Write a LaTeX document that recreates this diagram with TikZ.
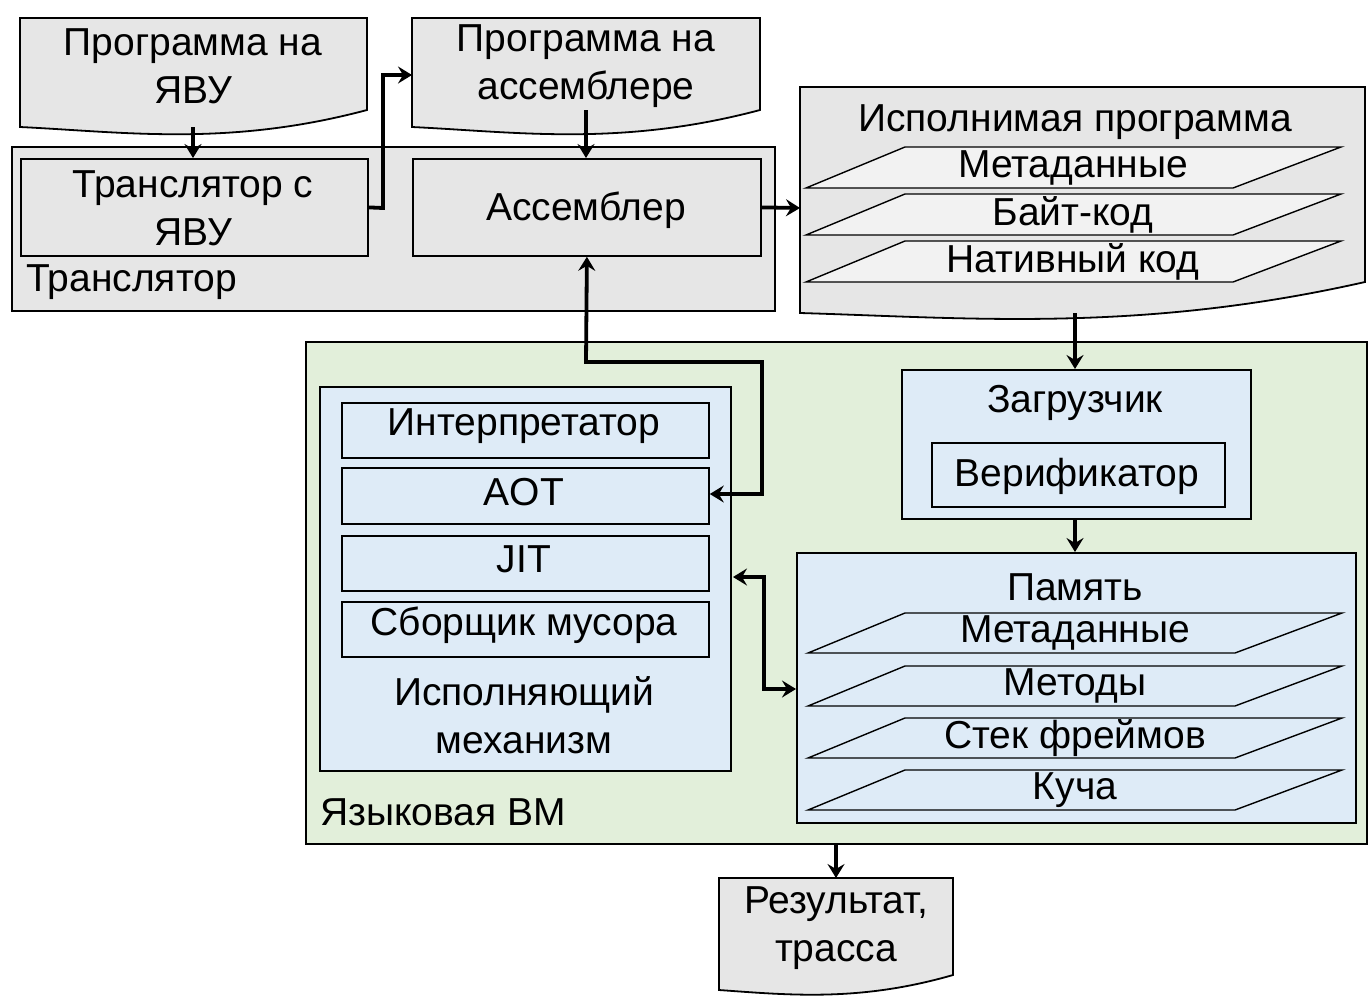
\documentclass[tikz,border=0pt]{standalone}
\usepackage{fontspec}
\setmainfont{Liberation Sans}
\usetikzlibrary{arrows.meta}
\definecolor{gr}{HTML}{E6E6E6}
\definecolor{lgr}{HTML}{F2F2F2}
\definecolor{grn}{HTML}{E2EFDA}
\definecolor{blu}{HTML}{DEEBF7}
\newcommand{\docpath}[7]{% x1 x2 ytop yleft yright fill dip
  \filldraw[fill=#6, line width=1.8pt] (#1,#3) -- (#2,#3) -- (#2,#5) .. controls ({#2-0.4*(#2-#1)},{#4+#7}) and ({#1+0.3*(#2-#1)},{#4+5}) .. (#1,#4) -- cycle;}
\begin{document}
\begin{tikzpicture}[x=1pt,y=-1pt,
  txt/.style={font=\fontsize{39}{48}\selectfont, align=center, inner sep=0},
  box/.style={draw, line width=1.8pt, inner sep=0, anchor=north west},
  arr/.style={line width=3.8pt, -{Stealth[length=14pt,width=17pt,inset=5pt]}},
  darr/.style={line width=3.8pt, {Stealth[length=14pt,width=17pt,inset=5pt]}-{Stealth[length=14pt,width=17pt,inset=5pt]}}]
\useasboundingbox (0,0) rectangle (1368,1002);
% documents top
\docpath{20}{367}{18}{127}{110}{gr}{20}
\node[txt] (d1) at (193,66) {Программа на\\ЯВУ};
\docpath{412}{760}{18}{127}{110}{gr}{20}
\node[txt] (d2) at (586,66) {Программа на\\ассемблере};
% translator group
\node[box, fill=gr, minimum width=763pt, minimum height=164pt] (tr) at (11,146) {};
\node[txt, anchor=west] (trl) at (26,282) {Транслятор};
\node[box, fill=gr, minimum width=347pt, minimum height=97pt] (ty) at (20,158) {};
\node[txt] (tyl) at (193,208) {Транслятор с\\ЯВУ};
\node[box, fill=gr, minimum width=348pt, minimum height=97pt] (as) at (412,158) {};
\node[txt] (asl) at (586,210) {Ассемблер};
% executable doc
\docpath{800}{1365}{87}{313}{282}{gr}{20}
\node[txt] (ex) at (1075,122) {Исполнимая программа};
\foreach \a/\b/\t/\n in {147/188/Метаданные/m1,194/235/Байт-код/m2,241/282/Нативный код/m3}{
  \filldraw[fill=lgr, line width=1.4pt] (806,\b) -- (905,\a) -- (1341,\a) -- (1233,\b) -- cycle;
  \node[txt] (\n) at (1073,{(\a+\b)/2}) {\t};}
% VM
\node[box, fill=grn, minimum width=1061pt, minimum height=502pt] (vm) at (305,341) {};
\node[txt, anchor=west] (vml) at (320,812) {Языковая ВМ};
\node[box, fill=blu, minimum width=411pt, minimum height=384pt] (em) at (319,386) {};
\foreach \a/\b/\t/\n in {402/457/Интерпретатор/i1,467/523/AOT/i2,535/590/JIT/i3,601/656/Сборщик мусора/i4}{
  \node[box, fill=blu, minimum width=367pt, minimum height={\b-\a}] (\n) at (341,\a) {};
  \node[txt] at (524,{(\a+\b)/2-3}) {\t};}
\node[txt] (eml) at (524,715) {Исполняющий\\механизм};
\node[box, fill=blu, minimum width=349pt, minimum height=149pt] (ld) at (901,369) {};
\node[txt] (ldl) at (1075,403) {Загрузчик};
\node[box, fill=blu, minimum width=293pt, minimum height=64pt] (vf) at (931,442) {};
\node[txt] (vfl) at (1077,476) {Верификатор};
\node[box, fill=blu, minimum width=559pt, minimum height=270pt] (mem) at (796,552) {};
\node[txt] (meml) at (1075,587) {Память};
\foreach \a/\b/\t/\n in {613/653/Метаданные/p1,666/706/Методы/p2,718/758/Стек фреймов/p3,770/810/Куча/p4}{
  \filldraw[fill=blu, line width=1.4pt] (808,\b) -- (905,\a) -- (1342,\a) -- (1235,\b) -- cycle;
  \node[txt] (\n) at (1075,{(\a+\b)/2}) {\t};}
% result
\docpath{719}{953}{878}{990}{975}{gr}{12}
\node[txt] (rs) at (836,928) {Результат,\\трасса};
% connectors
\coordinate (c1) at (193,127); \coordinate (c2) at (586,110);
\coordinate (c3) at (1075,313); \coordinate (c4) at (836,878);
\draw[arr] (c1) -- (193,158);
\draw[arr] (c2) -- (586,158);
\draw[arr] (ty.east) -- (383,208) -- (383,75) -- (412,75);
\draw[arr] (as.east) -- (800,208);
\draw[arr] (c3) -- (ld.north -| c3);
\draw[arr] (ld.south -| c3) -- (mem.north -| c3);
\draw[arr] (vm.south -| c4) -- (c4);
\draw[darr] (as.south) -- (586,362) -- (762,362) -- (762,494) -- (i2.east |- 0,494);
\draw[darr] (733,577) -- (764,577) -- (764,689) -- (mem.west |- 0,689);
\end{tikzpicture}
\end{document}
